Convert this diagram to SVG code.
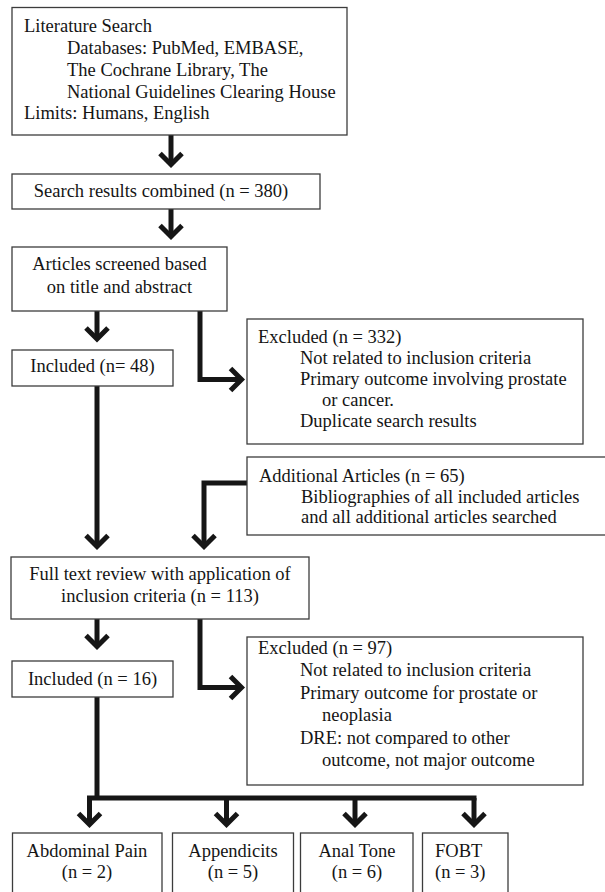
<svg xmlns="http://www.w3.org/2000/svg" width="605" height="892" viewBox="0 0 605 892">
<style>
.box{fill:#fff;stroke:#3c3c3c;stroke-width:1.3}
text{font-family:"Liberation Serif","Times New Roman",serif;font-size:18.5px;fill:#151515}
.c{text-anchor:middle}
.ln{fill:none;stroke:#161616;stroke-width:5;stroke-linejoin:miter}
.ar{marker-end:url(#ah)}
</style>
<defs>
<marker id="ah" markerUnits="userSpaceOnUse" orient="auto" overflow="visible" markerWidth="30" markerHeight="30" refX="0" refY="0">
<path d="M-11,-11 L0,0 L-11,11" fill="none" stroke="#161616" stroke-width="5"/>
</marker>
</defs>
<rect width="605" height="892" fill="#fff"/>
<g id="connectors">
<path class="ln ar" d="M171,135 V164.5"/>
<path class="ln ar" d="M171,209 V236.5"/>
<path class="ln ar" d="M97,311 V339"/>
<path class="ln ar" d="M200,311 V379.5 H241.5"/>
<path class="ln ar" d="M97,386 V546.5"/>
<path class="ln ar" d="M247,483 H204 V546.5"/>
<path class="ln ar" d="M97,619 V646.5"/>
<path class="ln ar" d="M200,619 V687.5 H241.5"/>
<path class="ln" d="M97,697 V800"/>
<path class="ln" d="M87,798 H476.5"/>
<path class="ln ar" d="M89.5,798 V824.5"/>
<path class="ln ar" d="M226.5,798 V824.5"/>
<path class="ln ar" d="M355,798 V824.5"/>
<path class="ln ar" d="M474,798 V824.5"/>
</g>
<g id="literature-search">
<rect class="box" x="12" y="7.5" width="335" height="127.5"/>
<text x="24" y="32">Literature Search</text>
<text x="67" y="54">Databases: PubMed, EMBASE,</text>
<text x="67" y="76">The Cochrane Library, The</text>
<text x="67" y="97.5">National Guidelines Clearing House</text>
<text x="24" y="119">Limits: Humans, English</text>
</g>
<g id="search-results">
<rect class="box" x="12" y="174" width="308" height="35"/>
<text class="c" x="161" y="197">Search results combined (n = 380)</text>
</g>
<g id="articles-screened">
<rect class="box" x="12" y="247" width="215" height="64"/>
<text class="c" x="119.5" y="270">Articles screened based</text>
<text class="c" x="119.5" y="293">on title and abstract</text>
</g>
<g id="included-48">
<rect class="box" x="12" y="350" width="161" height="36"/>
<text class="c" x="92.5" y="372">Included (n= 48)</text>
</g>
<g id="excluded-332">
<rect class="box" x="247" y="319" width="336" height="125"/>
<text x="258" y="342.5">Excluded (n = 332)</text>
<text x="300" y="363.5">Not related to inclusion criteria</text>
<text x="300" y="385">Primary outcome involving prostate</text>
<text x="322" y="406">or cancer.</text>
<text x="300" y="427">Duplicate search results</text>
</g>
<g id="additional-articles">
<rect class="box" x="247" y="457" width="365" height="78"/>
<text x="259" y="482">Additional Articles (n = 65)</text>
<text x="301" y="502.5">Bibliographies of all included articles</text>
<text x="301" y="523">and all additional articles searched</text>
</g>
<g id="full-text-review">
<rect class="box" x="11" y="557" width="298" height="62"/>
<text class="c" x="160" y="579.5">Full text review with application of</text>
<text class="c" x="160" y="602">inclusion criteria (n = 113)</text>
</g>
<g id="included-16">
<rect class="box" x="12" y="661" width="161" height="36"/>
<text class="c" x="92.5" y="685">Included (n = 16)</text>
</g>
<g id="excluded-97">
<rect class="box" x="247" y="637" width="336" height="148"/>
<text x="258" y="654">Excluded (n = 97)</text>
<text x="300" y="676">Not related to inclusion criteria</text>
<text x="300" y="698.5">Primary outcome for prostate or</text>
<text x="322" y="721">neoplasia</text>
<text x="300" y="743.5">DRE: not compared to other</text>
<text x="322" y="766">outcome, not major outcome</text>
</g>
<g id="abdominal-pain">
<rect class="box" x="12.5" y="833" width="149.5" height="70"/>
<text class="c" x="87" y="857">Abdominal Pain</text>
<text class="c" x="87" y="878">(n = 2)</text>
</g>
<g id="appendicits">
<rect class="box" x="172.5" y="833" width="121" height="70"/>
<text class="c" x="233" y="857">Appendicits</text>
<text class="c" x="233" y="878">(n = 5)</text>
</g>
<g id="anal-tone">
<rect class="box" x="300.5" y="833" width="112.5" height="70"/>
<text class="c" x="357" y="857">Anal Tone</text>
<text class="c" x="357" y="878">(n = 6)</text>
</g>
<g id="fobt">
<rect class="box" x="422.5" y="833" width="85.5" height="70"/>
<text x="435" y="857">FOBT</text>
<text x="435" y="878">(n = 3)</text>
</g>
</svg>
